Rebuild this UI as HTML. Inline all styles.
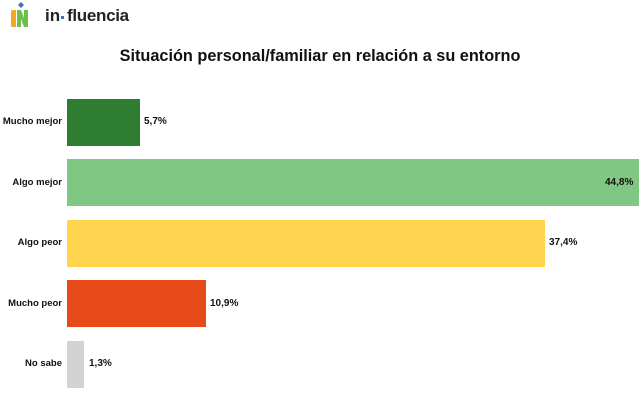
<!DOCTYPE html>
<html><head><meta charset="utf-8"><style>
html,body{margin:0;padding:0;background:#fff;}
body{width:642px;height:407px;position:relative;overflow:hidden;font-family:"Liberation Sans",sans-serif;}
.t{position:absolute;left:0;width:640px;top:47px;text-align:center;font-weight:bold;font-size:16.3px;color:#111;}
.bar{position:absolute;left:67px;height:47px;}
.lab{position:absolute;right:580px;font-weight:bold;font-size:9.5px;color:#111;line-height:12px;white-space:nowrap;text-align:right;}
.val{position:absolute;font-weight:bold;font-size:10px;color:#111;line-height:12px;white-space:nowrap;}
.lg{position:absolute;top:6px;font-size:17px;font-weight:bold;color:#222;line-height:20px;white-space:nowrap;}
</style></head><body>
<svg style="position:absolute;left:0;top:0" width="40" height="32">
<polygon points="21,2 24,5 21,8 18,5" fill="#3f6fc4"/>
<path d="M11,12 Q11,10 13,10 L16,10 L16,27 L12,27 Q11,27 11,25 Z" fill="#f5a623"/>
<path d="M17,10 L21,10 L24,18 L24,10 L28,10 L28,27 L24,27 L21,19 L21,27 L17,27 Z" fill="#6cc04a"/>
</svg>
<div class="lg" style="left:45px">in</div>
<div style="position:absolute;left:61px;top:16px;width:3px;height:3px;background:#3f6fc4"></div>
<div class="lg" style="left:67px;letter-spacing:-0.3px">fluencia</div>
<div class="t">Situación personal/familiar en relación a su entorno</div>

<div class="bar" style="top:99px;width:73px;background:#2e7d32"></div>
<div class="lab" style="top:116px">Mucho mejor</div>
<div class="val" style="left:144px;top:116px">5,7%</div>

<div class="bar" style="top:159px;width:572px;background:#81c784"></div>
<div class="lab" style="top:177px">Algo mejor</div>
<div class="val" style="left:605px;top:177px">44,8%</div>

<div class="bar" style="top:220px;width:478px;background:#ffd54f"></div>
<div class="lab" style="top:237px">Algo peor</div>
<div class="val" style="left:549px;top:237px">37,4%</div>

<div class="bar" style="top:280px;width:139px;background:#e64a19"></div>
<div class="lab" style="top:298px">Mucho peor</div>
<div class="val" style="left:210px;top:298px">10,9%</div>

<div class="bar" style="top:341px;width:17px;background:#d3d3d3"></div>
<div class="lab" style="top:358px">No sabe</div>
<div class="val" style="left:89px;top:358px">1,3%</div>
</body></html>
